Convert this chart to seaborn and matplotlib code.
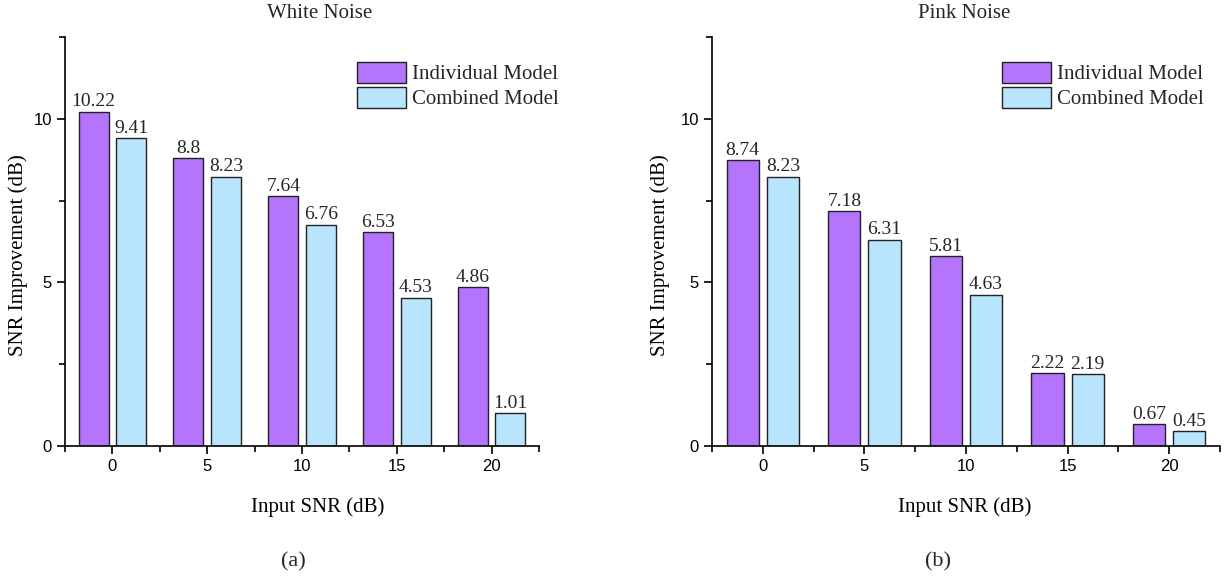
import numpy as np
import pandas as pd
import matplotlib
matplotlib.use("Agg")
import matplotlib.pyplot as plt
from matplotlib.ticker import MultipleLocator
import seaborn as sns

input_snr = [0, 5, 10, 15, 20]
models = ["Individual Model", "Combined Model"]
white_individual = [10.22, 8.8, 7.64, 6.53, 4.86]
white_combined = [9.41, 8.23, 6.76, 4.53, 1.01]
pink_individual = [8.74, 7.18, 5.81, 2.22, 0.67]
pink_combined = [8.23, 6.31, 4.63, 2.19, 0.45]
colors = ["#B574FC", "#B8E4FC"]

sns.set_theme(style="ticks")
plt.rcParams["font.family"] = ["Liberation Serif", "DejaVu Serif"]

fig = plt.figure(figsize=(12.28, 5.79), dpi=100)
W, H = 1228, 579
ax1 = fig.add_axes([65 / W, 1 - 446 / H, 474 / W, 409 / H])
ax2 = fig.add_axes([712 / W, 1 - 446 / H, 508 / W, 409 / H])


def make_df(ind, comb):
    return pd.DataFrame({
        "snr": input_snr * 2,
        "val": list(ind) + list(comb),
        "model": [models[0]] * len(ind) + [models[1]] * len(comb),
    })


def fmt(v):
    s = f"{v:.2f}"
    if s.endswith("0") and not s.endswith(".00"):
        s = s[:-1]
    return s


def draw(ax, ind, comb, title, letter, legx, title_x, xlab_x, letter_x, ylab_x):
    df = make_df(ind, comb)
    sns.barplot(data=df, x="snr", y="val", hue="model", hue_order=models,
                palette=colors, native_scale=True, width=0.79, gap=0.2,
                edgecolor="#222222", linewidth=1.0, saturation=1, ax=ax,
                errorbar=None)
    for cont, vals in zip(ax.containers, [ind, comb]):
        ax.bar_label(cont, labels=[fmt(v) for v in vals], padding=1,
                     fontsize=14, family="Liberation Serif")
    ax.set_xlim(-2.5, 22.5)
    ax.set_ylim(0, 12.5)
    ax.set_xticks(input_snr)
    ax.set_xticklabels([str(v) for v in input_snr])
    ax.xaxis.set_minor_locator(MultipleLocator(2.5))
    ax.set_yticks([0, 5, 10])
    ax.set_yticklabels(["0", "5", "10"])
    ax.yaxis.set_minor_locator(MultipleLocator(2.5))
    ax.tick_params(which="major", direction="out", length=6, width=1.2,
                   color="black", labelsize=12, labelfontfamily="Liberation Sans",
                   labelcolor="black")
    ax.tick_params(which="minor", direction="out", length=4, width=1.2, color="black")
    for sp in ["top", "right"]:
        ax.spines[sp].set_visible(False)
    for sp in ["left", "bottom"]:
        ax.spines[sp].set_linewidth(1.2)
        ax.spines[sp].set_color("black")
    ax.set_xlabel("Input SNR (dB)", fontsize=15, color="black")
    ax.xaxis.set_label_coords(xlab_x, -0.125)
    ax.set_ylabel("SNR Improvement (dB)", fontsize=15, color="black")
    ax.yaxis.set_label_coords(ylab_x, 0.467)
    fig.text(title_x / W, 1 - 13 / H, title, ha="center", va="center", fontsize=15)
    ax.legend(loc="upper left", bbox_to_anchor=(legx, 0.94), frameon=False,
              fontsize=15, handlelength=2.35, handleheight=1.2,
              labelspacing=0.12, handletextpad=0.3, borderpad=0, borderaxespad=0)
    fig.text(letter_x / W, 1 - 562 / H, letter, ha="center", va="center", fontsize=16)


draw(ax1, white_individual, white_combined, "White Noise", "(a)", 0.616, 320,
     (318 - 65) / 474, 293, (28 - 65) / 474)
draw(ax2, pink_individual, pink_combined, "Pink Noise", "(b)", 0.571, 964,
     (965 - 712) / 508, 938, (670 - 712) / 508)

fig.savefig("out.png", dpi=100)
